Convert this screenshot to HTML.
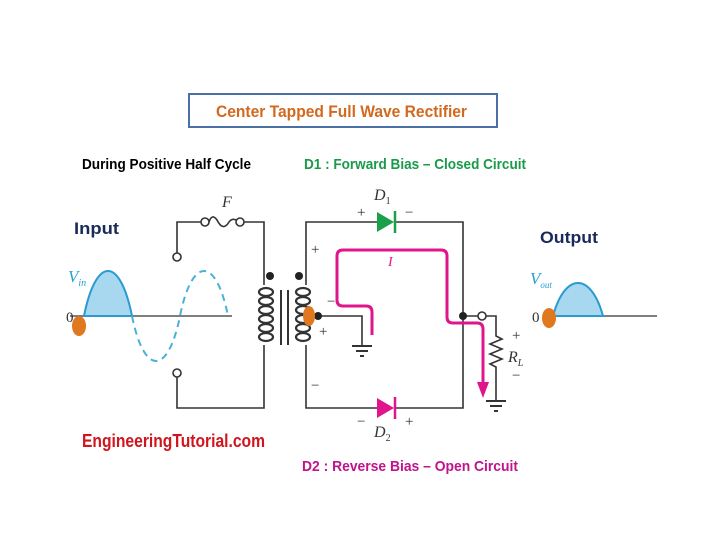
<!DOCTYPE html>
<html><head><meta charset="utf-8"><style>html,body{margin:0;padding:0;background:#fff}svg{display:block}</style></head>
<body>
<svg width="720" height="540" viewBox="0 0 720 540" xmlns="http://www.w3.org/2000/svg" font-family="Liberation Sans, sans-serif">
<rect x="189" y="94" width="308" height="33" fill="#fff" stroke="#4a6fa5" stroke-width="2"/>
<text x="216" y="117" font-size="17" font-weight="bold" fill="#d2691e" textLength="251" lengthAdjust="spacingAndGlyphs">Center Tapped Full Wave Rectifier</text>
<text x="82" y="169" font-size="15" font-weight="bold" fill="#000" textLength="169" lengthAdjust="spacingAndGlyphs">During Positive Half Cycle</text>
<text x="304" y="169" font-size="15" font-weight="bold" fill="#1a9a4a" textLength="222" lengthAdjust="spacingAndGlyphs">D1 : Forward Bias – Closed Circuit</text>
<text x="74" y="234" font-size="17" font-weight="bold" fill="#1a2a5a" textLength="45" lengthAdjust="spacingAndGlyphs">Input</text>
<text x="540" y="243" font-size="17" font-weight="bold" fill="#1a2a5a" textLength="58" lengthAdjust="spacingAndGlyphs">Output</text>
<text x="82" y="447" font-size="18" font-weight="bold" fill="#d0161c" textLength="183" lengthAdjust="spacingAndGlyphs">EngineeringTutorial.com</text>
<text x="302" y="471" font-size="15" font-weight="bold" fill="#c0138c" textLength="216" lengthAdjust="spacingAndGlyphs">D2 : Reverse  Bias – Open Circuit</text>

<g stroke="#333" stroke-width="1.6" fill="none">
<path d="M177 253 V222 H201 M244 222 H264 V285 M264 345 V408 H177 V377"/>
<path d="M209 222 q3 -9 8 -2 q6 12 12 2 q3 -4 7 -2" />
<circle cx="205" cy="222" r="4" fill="#fff"/><circle cx="240" cy="222" r="4" fill="#fff"/>
<circle cx="177" cy="257" r="4" fill="#fff"/><circle cx="177" cy="373" r="4" fill="#fff"/>
<g stroke-width="2.2">
<ellipse cx="266" cy="292" rx="7" ry="4"/><ellipse cx="266" cy="301" rx="7" ry="4"/><ellipse cx="266" cy="310" rx="7" ry="4"/><ellipse cx="266" cy="319" rx="7" ry="4"/><ellipse cx="266" cy="328" rx="7" ry="4"/><ellipse cx="266" cy="337" rx="7" ry="4"/>
<ellipse cx="303" cy="292" rx="7" ry="4"/><ellipse cx="303" cy="301" rx="7" ry="4"/><ellipse cx="303" cy="310" rx="7" ry="4"/><ellipse cx="303" cy="319" rx="7" ry="4"/><ellipse cx="303" cy="328" rx="7" ry="4"/><ellipse cx="303" cy="337" rx="7" ry="4"/>
</g>
<path d="M281 290 V345 M288 290 V345" stroke-width="2"/>
<path d="M306 285 V222 H377 M395 222 H463 V408 H395 M377 408 H306 V345"/>
<path d="M306 316 H362 V345"/>
<path d="M352 346 H372 M356 351 H368 M360 356 H364" stroke-width="2"/>
<path d="M463 316 H478 M486 316 H496 V336 l6 3 -12 5 12 5 -12 5 12 5 -12 5 6 3 V400"/>
<circle cx="482" cy="316" r="4" fill="#fff"/>
<path d="M486 401 H506 M490 406 H502 M494 411 H498" stroke-width="2"/>
<path d="M70 316 H232 M545 316 H657" stroke="#555"/>
</g>
<circle cx="463" cy="316" r="4" fill="#222"/>
<circle cx="270" cy="276" r="4" fill="#222"/><circle cx="299" cy="276" r="4" fill="#222"/>
<circle cx="318" cy="316" r="4" fill="#222"/>
<path d="M377 212 L394 222 L377 232 Z" fill="#1aa04a"/><path d="M395 211 V233" stroke="#1aa04a" stroke-width="2.5"/>
<path d="M377 398 L394 408 L377 418 Z" fill="#e0158c"/><path d="M395 397 V419" stroke="#e0158c" stroke-width="2.5"/>
<path d="M372 335 V312 q0 -6 -6 -6 H343 q-6 0 -6 -6 V256 q0 -6 6 -6 H441 q6 0 6 6 V317 q0 6 6 6 H477 q6 0 6 6 V385" fill="none" stroke="#e0158c" stroke-width="3"/>
<path d="M477 382 L489 382 L483 398 Z" fill="#e0158c"/>
<text x="388" y="266" font-size="14" font-style="italic" fill="#e0158c" font-family="Liberation Serif, serif">I</text>
<path d="M84 316 C96 256 120 256 132 316 Z" fill="#a8d8f0" stroke="#2a9ad0" stroke-width="2"/>
<path d="M132 316 C144 376 168 376 180 316 C192 256 216 256 228 316" fill="none" stroke="#4ab0d8" stroke-width="2" stroke-dasharray="7 5"/>
<path d="M553 316 C565 272 591 272 603 316 Z" fill="#a8d8f0" stroke="#2a9ad0" stroke-width="2"/>
<g font-family="Liberation Serif, serif" font-style="italic">
<text x="68" y="282" font-size="17" fill="#2aa0d0">V<tspan font-size="10" dy="4">in</tspan></text>
<text x="530" y="284" font-size="17" fill="#2aa0d0">V<tspan font-size="9" dy="4">out</tspan></text>
<text x="222" y="207" font-size="16" fill="#333">F</text>
<text x="374" y="200" font-size="16" fill="#333">D<tspan font-size="10" dy="4" font-style="normal">1</tspan></text>
<text x="374" y="437" font-size="16" fill="#333">D<tspan font-size="10" dy="4" font-style="normal">2</tspan></text>
<text x="508" y="362" font-size="16" fill="#333">R<tspan font-size="10" dy="4">L</tspan></text>
</g>
<g font-family="Liberation Serif, serif" font-size="15" fill="#333">
<text x="66" y="322">0</text><text x="532" y="322">0</text>
<text x="357" y="217">+</text><text x="405" y="217">−</text>
<text x="311" y="254">+</text><text x="327" y="306">−</text><text x="319" y="336">+</text><text x="311" y="390">−</text>
<text x="357" y="426">−</text><text x="405" y="426">+</text>
<text x="512" y="340">+</text><text x="512" y="380">−</text>
</g>
<ellipse cx="79" cy="326" rx="7" ry="10" fill="#e07820"/>
<ellipse cx="309" cy="316" rx="6" ry="10" fill="#e07820"/>
<ellipse cx="549" cy="318" rx="7" ry="10" fill="#e07820"/>
</svg>
</body></html>
